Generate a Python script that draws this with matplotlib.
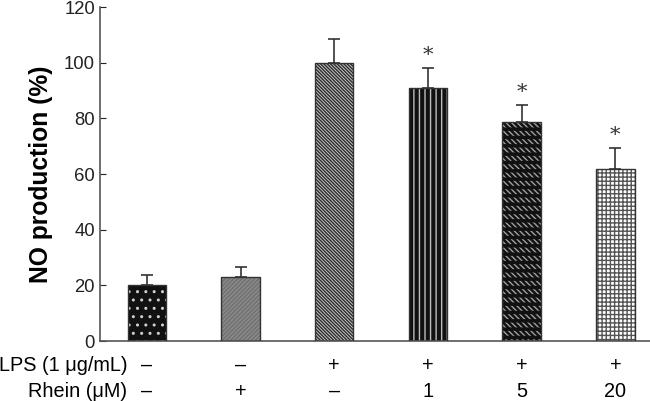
import matplotlib
matplotlib.use('Agg')
import matplotlib.pyplot as plt
import numpy as np

plt.rcParams['font.family'] = ['Liberation Sans', 'DejaVu Sans']

# データ
values = [20.3, 23.1, 99.9, 90.9, 78.7, 61.8]
errors = [3.5, 3.6, 8.6, 7.2, 6.1, 7.5]
signif = ['', '', '', '*', '*', '*']
lps_row = ['–', '–', '+', '+', '+', '+']
rhein_row = ['–', '+', '–', '1', '5', '20']
row_labels = ['LPS (1 μg/mL)', 'Rhein (μM)']

# 各バーの模様 (塗り, 模様, 模様の色)
faces = ['#111111', '#8a8a8a', '#c8c8c8', '#111111', '#111111', '#ffffff']
hatches = ['..', '////////', '\\' * 10, '|||', '\\' * 6, '++++']
hatch_colors = ['#cfcfcf', '#707070', '#2a2a2a', '#bdbdbd', '#a0a0a0', '#555555']

fig = plt.figure(figsize=(6.5, 4.01), dpi=100)
ax = fig.add_axes([0.1538, 0.1496, 0.8462, 0.8329])

x = np.arange(len(values))
w = 0.41
for i in range(len(values)):
    ax.bar(x[i], values[i], w, color=faces[i], hatch=hatches[i],
           edgecolor=hatch_colors[i], linewidth=0, zorder=2)
    if i == 4:
        # 斜線を横の帯で区切る
        with plt.rc_context({'hatch.linewidth': 2.5}):
            ax.bar(x[i], values[i], w, fill=False, hatch='--',
                   edgecolor='#111111', linewidth=0, zorder=2.5)
    ax.bar(x[i], values[i], w, fill=False, edgecolor='#333333',
           linewidth=1.0, zorder=3)

ax.errorbar(x, values, yerr=[np.zeros(len(errors)), errors], fmt='none',
            ecolor='#333333', elinewidth=1.2, capsize=4, capthick=1.2, zorder=1)

for i in range(len(values)):
    if signif[i]:
        ax.text(x[i], values[i] + errors[i] + 1.0, signif[i], ha='center',
                va='bottom', fontsize=15, family='DejaVu Serif', color='#333333')

ax.set_xlim(-0.5, 5.37)
ax.set_ylim(0, 120)
ax.set_yticks(np.arange(0, 121, 20))
ax.set_xticks([])
ax.tick_params(axis='y', direction='in', length=4, labelsize=13.3, colors='#222222')
for s in ['top', 'right']:
    ax.spines[s].set_visible(False)
for s in ['left', 'bottom']:
    ax.spines[s].set_color('#555555')
    ax.spines[s].set_linewidth(1.2)

ax.set_ylabel('NO production (%)', fontsize=17.7, fontweight='bold', labelpad=8)

tr = ax.get_xaxis_transform()
for i in range(len(values)):
    ax.text(x[i], -0.072, lps_row[i], transform=tr, ha='center', va='center', fontsize=14.3)
    ax.text(x[i], -0.15, rhein_row[i], transform=tr, ha='center', va='center', fontsize=14.3)
ax.text(-0.21, -0.072, row_labels[0], transform=tr, ha='right', va='center', fontsize=14.3)
ax.text(-0.21, -0.15, row_labels[1], transform=tr, ha='right', va='center', fontsize=14.3)

fig.savefig('out.png', dpi=100)
